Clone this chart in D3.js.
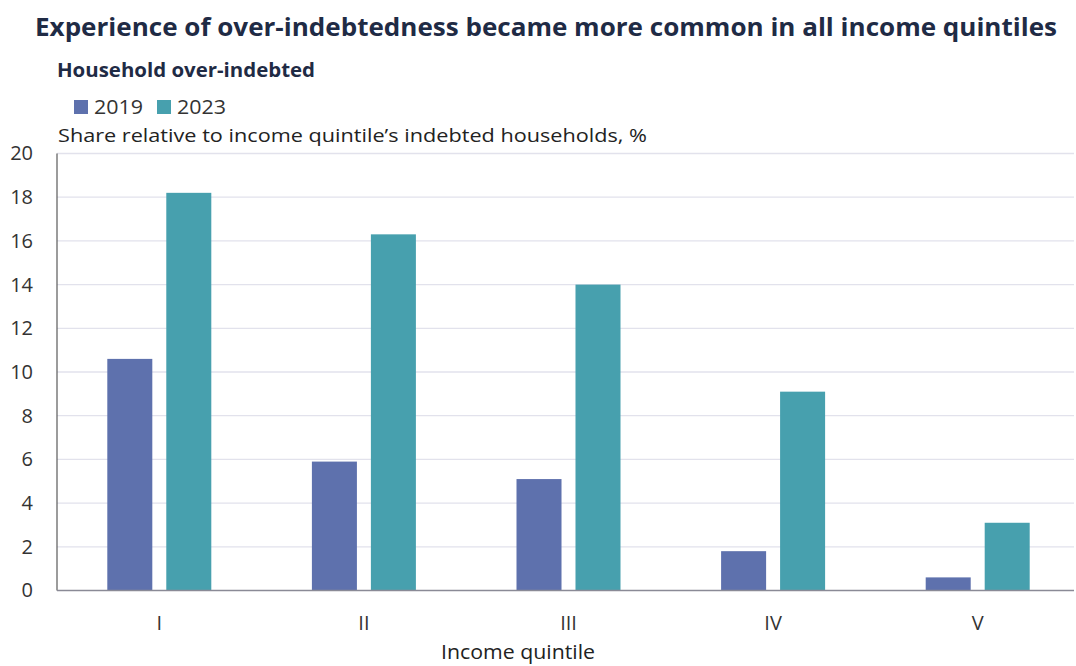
<!DOCTYPE html>
<html><head><meta charset="utf-8">
<script src="https://cdn.jsdelivr.net/npm/d3@7"></script>
<style>
html,body{margin:0;padding:0;background:#fff;}
svg{display:block;font-family:"Open Sans",sans-serif;}
</style></head>
<body>
<svg id="chart" width="1076" height="666"></svg>
<script>
const categories = ["I", "II", "III", "IV", "V"];
const seriesNames = ["2019", "2023"];
const values2019 = [10.6, 5.9, 5.1, 1.8, 0.6];
const values2023 = [18.2, 16.3, 14.0, 9.1, 3.1];
const yTicks = [0, 2, 4, 6, 8, 10, 12, 14, 16, 18, 20];
const colors = ["#5e71ad", "#47a0ae"];

(function () {
const svg = d3.select("#chart");
const mLeft = 57, mRight = 1080, mTop = 153.5, mBottom = 590.5, gridRight = 1074;

const x0 = d3.scaleBand().domain(categories).range([mLeft, mRight]).paddingInner(0).paddingOuter(0);
const x1 = d3.scaleBand().domain(seriesNames).range([-52, 52]).paddingInner(0.237).paddingOuter(0);
const y = d3.scaleLinear().domain([0, 20]).range([mBottom, mTop]);

// gridlines
svg.append("g").selectAll("line").data(yTicks.filter(d => d > 0)).join("line")
  .attr("x1", mLeft).attr("x2", gridRight)
  .attr("y1", d => y(d)).attr("y2", d => y(d))
  .attr("stroke", "#e2e2ec").attr("stroke-width", 1.3);

// bars
const rows = categories.map((c, i) => ({cat: c, vals: [values2019[i], values2023[i]]}));
const g = svg.append("g");
rows.forEach(r => {
  r.vals.forEach((v, j) => {
    const cx = x0(r.cat) + x0.bandwidth() / 2;
    g.append("rect")
      .attr("x", cx + x1(seriesNames[j]))
      .attr("width", x1.bandwidth())
      .attr("y", y(v))
      .attr("height", y(0) - y(v))
      .attr("fill", colors[j]);
  });
});

// axes lines
svg.append("line").attr("x1", mLeft).attr("x2", mLeft).attr("y1", mTop).attr("y2", mBottom)
  .attr("stroke", "#5a5a5a").attr("stroke-width", 1.2);
svg.append("line").attr("x1", mLeft).attr("x2", gridRight).attr("y1", mBottom).attr("y2", mBottom)
  .attr("stroke", "#8a8a96").attr("stroke-width", 1.5);

// y tick labels
const yAxis = d3.axisLeft(y).tickValues(yTicks).tickSize(0).tickPadding(0);
const ya = svg.append("g").attr("transform", "translate(33,0)").call(yAxis)
  .attr("font-size", 20).attr("font-family", "Open Sans, sans-serif");
ya.select(".domain").remove();
ya.selectAll("text").attr("fill", "#333");

// x tick labels
const xAxis = d3.axisBottom(x0).tickSize(0).tickPadding(0);
const xa = svg.append("g").attr("transform", "translate(0,630)").call(xAxis)
  .attr("font-size", 20).attr("font-family", "Open Sans, sans-serif");
xa.select(".domain").remove();
xa.selectAll("text").attr("fill", "#333").attr("y", 0).attr("dy", 0);

// titles
svg.append("text").attr("x", 35).attr("y", 36)
  .attr("font-size", 25.5).attr("font-weight", 700).attr("fill", "#1f2b45")
  .attr("textLength", 1022).attr("lengthAdjust", "spacingAndGlyphs")
  .text("Experience of over-indebtedness became more common in all income quintiles");
svg.append("text").attr("x", 57).attr("y", 77)
  .attr("font-size", 19).attr("font-weight", 700).attr("fill", "#1f2b45")
  .attr("textLength", 258).attr("lengthAdjust", "spacingAndGlyphs")
  .text("Household over-indebted");

// legend
const legendX = [74, 157];
seriesNames.forEach((s, i) => {
  svg.append("rect").attr("x", legendX[i]).attr("y", 100).attr("width", 14).attr("height", 14).attr("fill", colors[i]);
  svg.append("text").attr("x", legendX[i] + 20).attr("y", 114)
    .attr("font-size", 19.5).attr("fill", "#333").attr("textLength", 49).attr("lengthAdjust", "spacingAndGlyphs").text(s);
});

svg.append("text").attr("x", 58).attr("y", 142)
  .attr("font-size", 19).attr("fill", "#222")
  .attr("textLength", 589).attr("lengthAdjust", "spacingAndGlyphs")
  .text("Share relative to income quintile\u2019s indebted households, %");

svg.append("text").attr("x", 518).attr("y", 659).attr("text-anchor", "middle")
  .attr("font-size", 20).attr("fill", "#222")
  .attr("textLength", 154).attr("lengthAdjust", "spacingAndGlyphs")
  .text("Income quintile");
})();
</script>
</body></html>
